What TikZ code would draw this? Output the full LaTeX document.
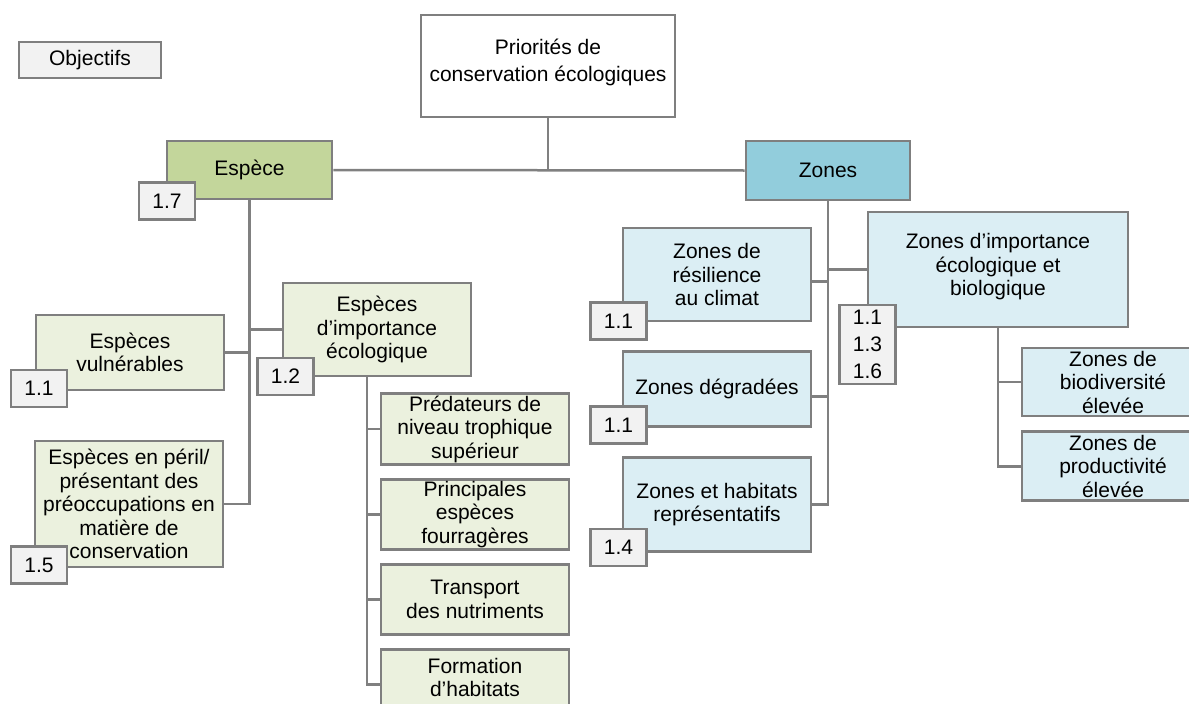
\documentclass[tikz,border=0pt]{standalone}
\usepackage{fontspec}
\setmainfont{Liberation Sans}
\usepackage{tikz}
\usetikzlibrary{positioning}
\definecolor{boxgray}{RGB}{127,127,127}
\definecolor{linegray}{RGB}{128,128,128}
\definecolor{numgray}{RGB}{242,242,242}
\definecolor{espgreen}{RGB}{195,214,155}
\definecolor{espgreenlight}{RGB}{235,241,222}
\definecolor{zoneblue}{RGB}{146,205,220}
\definecolor{zonebluelight}{RGB}{219,238,244}

\begin{document}
\begin{tikzpicture}[x=1pt, y=-1pt,
    box/.style={rectangle, draw=boxgray, line width=2.8pt, align=center, inner sep=2pt, font=\fontsize{21}{23.5}\selectfont},
    espbox/.style={box, fill=espgreenlight, minimum width=188pt},
    zonebox/.style={box, fill=zonebluelight, minimum width=188pt},
    numbox/.style={box, fill=numgray, minimum width=56pt, minimum height=37pt},
    link/.style={draw=linegray, line width=2.5pt}
]
    \useasboundingbox (0,0) rectangle (1189,704);
    \clip (0,0) rectangle (1189,704);

    \node[box, fill=numgray, minimum width=142pt, minimum height=36pt] (objectifs) at (90,60) {Objectifs};
    \node[box, fill=white, minimum width=254pt, minimum height=102pt, text depth=12pt, font=\fontsize{21}{27}\selectfont] (priorites) at (548,66) {Priorités de\\conservation écologiques};
    \node[box, fill=espgreen, minimum width=165pt, minimum height=58pt] (espece) at (249.5,170) {Espèce};
    \node[box, fill=zoneblue, minimum width=164pt, minimum height=59pt] (zones) at (828,170.5) {Zones};

    \node[espbox, minimum height=75pt] (vulnerables) at (130,352.5) {Espèces\\vulnérables};
    \node[espbox, minimum height=126pt] (peril) at (129,504) {Espèces en péril/\\présentant des\\préoccupations en\\matière de\\conservation};
    \node[espbox, minimum height=93pt] (importance) at (377,329.5) {Espèces\\d’importance\\écologique};
    \node[espbox, minimum height=70pt] (predateurs) at (475,429) {Prédateurs de\\niveau trophique\\supérieur};
    \node[espbox, minimum height=70pt, below=12pt of predateurs] (principales) {Principales\\espèces\\fourragères};
    \node[espbox, minimum height=70pt, below=12pt of principales] (transport) {Transport\\des nutriments};
    \node[espbox, minimum height=70pt, text depth=14pt, below=12pt of transport] (formation) {Formation\\d’habitats};

    \node[zonebox, minimum height=93pt] (resilience) at (717,274.5) {Zones de\\résilience\\au climat};
    \node[zonebox, minimum height=75pt, below=28pt of resilience] (degradees) {Zones dégradées};
    \node[zonebox, minimum height=94pt, below=28pt of degradees] (habitats) {Zones et habitats\\représentatifs};
    \node[zonebox, minimum width=260pt, minimum height=115pt, text depth=10pt] (importancezones) at (998,269.5) {Zones d’importance\\écologique et\\biologique};
    \node[zonebox, minimum width=182pt, minimum height=68pt] (biodiversite) at (1113,382) {Zones de\\biodiversité\\élevée};
    \node[zonebox, minimum width=182pt, minimum height=69pt, below=13pt of biodiversite] (productivite) {Zones de\\productivité\\élevée};

    \draw[link] (priorites.south) -- (priorites.south |- espece.east);
    \draw[link] (espece.east) -- (zones.west);

    \draw[link] (espece.south) |- (peril.east);
    \draw[link] (espece.south |- vulnerables.east) -- (vulnerables.east);
    \draw[link] (espece.south |- importance.west) -- (importance.west);
    \coordinate (impdown) at ([xshift=-10pt]importance.south);
    \draw[link] (impdown) |- (formation.west);
    \foreach \sub in {predateurs, principales, transport}
        \draw[link] (impdown |- \sub.west) -- (\sub.west);

    \draw[link] (zones.south) |- (habitats.east);
    \draw[link] (zones.south |- importancezones.west) -- (importancezones.west);
    \foreach \sub in {resilience, degradees} {
        \coordinate (\sub-end) at ([yshift=-7pt]\sub.east);
        \draw[link] (zones.south |- \sub-end) -- (\sub-end);
    }
    \draw[link] (importancezones.south) |- (productivite.west);
    \draw[link] (importancezones.south |- biodiversite.west) -- (biodiversite.west);

    \node[numbox] (n17) at (167,201) {1.7};
    \node[numbox] (n11vuln) at (39,388.5) {1.1};
    \node[numbox] (n12) at (285.5,376.5) {1.2};
    \node[numbox] (n15) at (39,565) {1.5};
    \node[numbox] (n11resil) at (618.5,321) {1.1};
    \node[numbox] (n11degr) at (618.5,425) {1.1};
    \node[numbox] (n14) at (618.5,547.5) {1.4};
    \node[numbox, minimum height=79pt, font=\fontsize{21}{27}\selectfont] (n111316) at (867.5,344.5) {1.1\\1.3\\1.6};
\end{tikzpicture}
\end{document}
